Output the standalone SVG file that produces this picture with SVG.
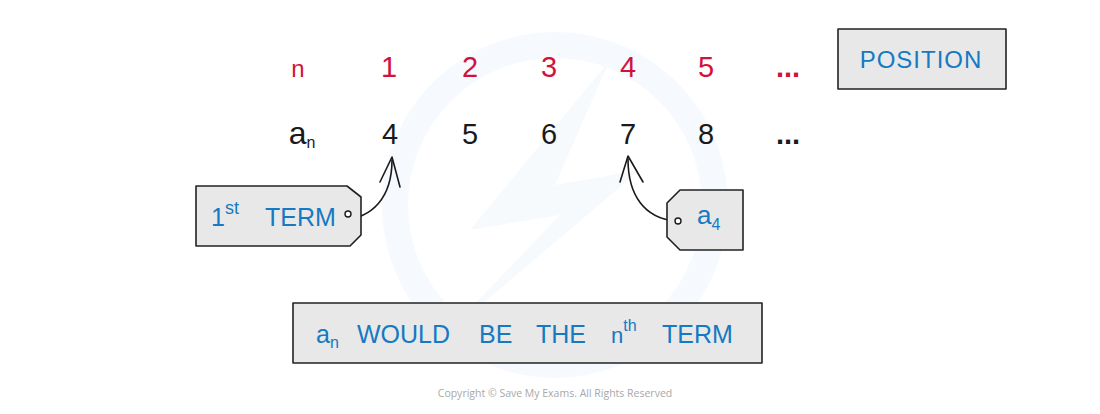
<svg xmlns="http://www.w3.org/2000/svg" width="1100" height="414" viewBox="0 0 1100 414">
<style>
.red{fill:#d1133b;font-family:"Liberation Sans",Arial,sans-serif}
.blk{fill:#1a1a1a;font-family:"Liberation Sans",Arial,sans-serif}
.blue{fill:#1679c2;font-family:"Liberation Sans",Arial,sans-serif}
.box{fill:#e8e8e8;stroke:#222;stroke-width:1.6;stroke-linejoin:round}
.con{fill:none;stroke:#1a1a1a;stroke-width:1.6;stroke-linecap:round;stroke-linejoin:round}
.hole{fill:#fff;stroke:#1a1a1a;stroke-width:1.4}
</style>
<rect width="1100" height="414" fill="#fff"/>
<g id="watermark">
<circle cx="555" cy="205" r="160" fill="none" stroke="#f6f9fd" stroke-width="26"/>
<polygon points="610,60 470,230 560,215 440,340 640,170 555,185" fill="#f7fafd"/>
</g>
<g id="row-n" class="red" font-size="29" text-anchor="middle">
<text x="298" y="77" font-size="24">n</text>
<text x="389" y="77">1</text>
<text x="470" y="77">2</text>
<text x="549" y="77">3</text>
<text x="628" y="77">4</text>
<text x="706" y="77">5</text>
<text x="788" y="77" font-weight="bold">...</text>
</g>
<g id="row-a" class="blk" font-size="29" text-anchor="middle">
<text x="302" y="144" font-size="32">a<tspan font-size="16" dy="4">n</tspan></text>
<text x="390" y="144">4</text>
<text x="470" y="144">5</text>
<text x="549" y="144">6</text>
<text x="628" y="144">7</text>
<text x="706" y="144">8</text>
<text x="788" y="144" font-weight="bold">...</text>
</g>
<g id="position">
<rect class="box" x="838" y="29" width="168" height="60"/>
<text class="blue" x="921" y="68" font-size="24" text-anchor="middle" letter-spacing="1">POSITION</text>
</g>
<g id="connectors">
<path class="con" d="M343,220 C372,218 392,198 392,160"/>
<path class="con" d="M380,182 L392,157 L400,187"/>
<path class="con" d="M675,221 C645,218 628,196 628,159"/>
<path class="con" d="M620,182 L628,156 L643,182"/>
</g>
<g id="tag-first">
<polygon class="box" points="196,186 347,186 361,197 361,235 350,246 196,246"/>
<circle class="hole" cx="348" cy="214" r="3"/>
<text class="blue" x="211" y="226" font-size="25">1<tspan font-size="18" dy="-12">st</tspan></text>
<text class="blue" x="265" y="226" font-size="25">TERM</text>
</g>
<g id="tag-a4">
<polygon class="box" points="680,190 743,190 743,250 680,250 667,237 667,203"/>
<circle class="hole" cx="678" cy="221" r="3"/>
<text class="blue" x="697" y="224" font-size="26">a<tspan font-size="16" dy="6">4</tspan></text>
</g>
<g id="nth-box">
<rect class="box" x="293" y="303" width="469" height="60"/>
<text class="blue" font-size="25" y="343">
<tspan x="316">a</tspan><tspan font-size="16" dy="5">n</tspan>
<tspan x="357" dy="-5">WOULD</tspan>
<tspan x="479">BE</tspan>
<tspan x="536">THE</tspan>
<tspan x="611" font-size="22">n</tspan><tspan font-size="16" dy="-12">th</tspan>
<tspan x="662" dy="12">TERM</tspan>
</text>
</g>
<text x="555" y="397" font-family="'Open Sans','Liberation Sans',sans-serif" font-size="10.5" fill="#a8a8a8" text-anchor="middle">Copyright © Save My Exams. All Rights Reserved</text>
</svg>
